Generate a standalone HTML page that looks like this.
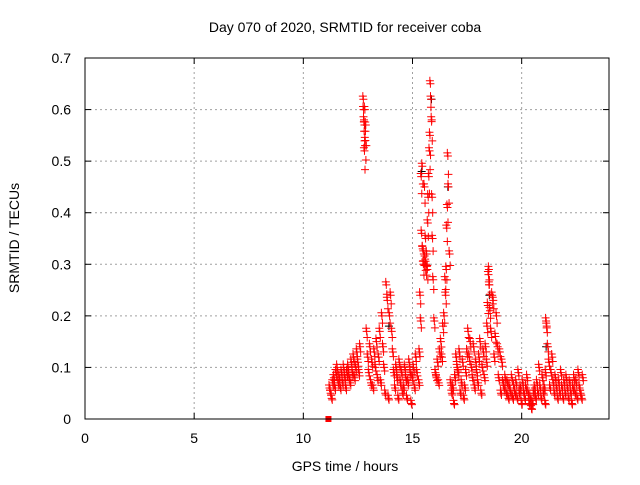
<!DOCTYPE html>
<html><head><meta charset="utf-8"><style>
body{margin:0;background:#fff;}
svg text{font-family:"Liberation Sans",sans-serif;font-size:14px;fill:#000;}
</style></head><body>
<svg id="chart" width="640" height="480" xmlns="http://www.w3.org/2000/svg">
<text x="345" y="32" text-anchor="middle">Day 070 of 2020, SRMTID for receiver coba</text>
<text x="345" y="471" text-anchor="middle">GPS time / hours</text>
<text transform="translate(19,238) rotate(-90)" text-anchor="middle">SRMTID / TECUs</text>
<g id="grid"></g><g id="ticks"></g><g id="black"></g><g id="red"></g>
<rect x="85" y="58" width="524" height="361" fill="none" stroke="#000" stroke-width="1"/>
</svg>
<script>
const xTicks=[0,5,10,15,20];
const yTicks=[0,0.1,0.2,0.3,0.4,0.5,0.6,0.7];
const yTickLabels=["0","0.1","0.2","0.3","0.4","0.5","0.6","0.7"];
const redHours=[11.2,11.25,11.3,11.35,11.4,11.45,11.5,11.55,11.6,11.65,11.7,11.75,11.8,11.85,11.9,11.95,12.0,12.05,12.1,12.15,12.2,12.25,12.3,12.35,12.4,12.45,12.5,12.55,12.6,
12.75,12.76,12.78,12.8,12.82,12.84,12.8,12.86,
12.9,12.95,13.0,13.05,13.1,13.15,13.2,13.25,13.3,13.35,13.4,13.45,13.5,13.55,13.6,13.65,13.7,13.75,13.8,13.85,13.9,13.95,14.0,14.05,14.1,14.15,14.2,14.25,14.3,14.35,14.4,14.45,14.5,14.55,14.6,14.65,14.7,14.75,14.8,14.85,14.9,14.95,15.0,15.05,15.1,15.15,15.2,
15.3,15.32,15.35,15.38,15.4,15.42,15.45,15.47,15.5,15.52,15.55,15.58,15.6,15.62,15.65,15.68,15.7,15.72,15.75,15.78,15.8,15.82,15.85,15.88,15.9,15.92,15.95,
16.0,16.05,16.1,16.15,16.2,16.25,16.3,16.35,16.4,16.45,16.5,16.52,16.55,16.57,16.6,16.62,16.65,
16.7,16.75,16.8,16.85,16.9,16.95,17.0,17.05,17.1,17.15,17.2,17.25,17.3,17.35,17.4,17.45,17.5,17.55,17.6,17.65,17.7,17.75,17.8,17.85,17.9,17.95,18.0,18.05,18.1,18.15,18.2,18.25,18.3,18.35,
18.4,18.42,18.45,18.48,18.5,18.52,18.55,18.6,18.65,18.7,18.75,18.8,18.85,18.9,18.95,19.0,19.05,19.1,19.15,
19.2,19.25,19.3,19.35,19.4,19.45,19.5,19.55,19.6,19.65,19.7,19.75,19.8,19.85,19.9,19.95,20.0,20.05,20.1,20.15,20.2,20.25,20.3,20.35,20.4,20.45,20.5,20.55,20.6,20.65,20.7,20.75,20.8,20.85,20.9,20.95,
21.0,21.05,21.08,21.1,21.12,21.15,21.2,21.25,21.3,21.35,21.4,21.45,21.5,21.55,21.6,21.65,21.7,21.75,21.8,21.85,21.9,21.95,22.0,22.05,22.1,22.15,22.2,22.25,22.3,22.35,22.4,22.45,22.5,22.55,22.6,22.65,22.7,22.75,22.8];
const redValues=[0.06,0.05,0.04,0.07,0.08,0.06,0.09,0.1,0.07,0.08,0.06,0.09,0.07,0.1,0.08,0.06,0.09,0.1,0.08,0.07,0.11,0.09,0.12,0.08,0.1,0.13,0.11,0.09,0.14,
0.62,0.6,0.58,0.57,0.6,0.54,0.52,0.57,
0.17,0.12,0.09,0.14,0.07,0.11,0.06,0.13,0.1,0.15,0.08,0.12,0.17,0.07,0.2,0.14,0.1,0.05,0.26,0.23,0.04,0.2,0.24,0.17,0.13,0.09,0.06,0.1,0.08,0.04,0.11,0.07,0.09,0.05,0.06,0.1,0.08,0.04,0.07,0.11,0.09,0.03,0.08,0.1,0.06,0.12,0.09,0.07,
0.13,0.24,0.19,0.47,0.36,0.49,0.33,0.3,0.32,0.45,0.31,0.35,0.3,0.32,0.29,0.38,0.43,0.47,0.52,0.55,0.65,0.62,0.58,0.43,0.35,0.27,0.19,
0.09,0.08,0.11,0.07,0.13,0.15,0.12,0.18,0.2,0.27,0.24,0.29,0.37,0.41,0.51,0.45,0.32,
0.07,0.05,0.06,0.03,0.08,0.12,0.1,0.09,0.13,0.05,0.07,0.11,0.04,0.06,0.09,0.13,0.17,0.12,0.15,0.1,0.08,0.14,0.06,0.11,0.09,0.07,0.12,0.15,0.05,0.1,0.13,0.08,0.14,0.11,
0.18,0.22,0.28,0.29,0.26,0.21,0.17,0.24,0.23,0.12,0.16,0.2,0.14,0.08,0.13,0.05,0.11,0.07,0.06,
0.08,0.05,0.07,0.04,0.06,0.05,0.08,0.04,0.06,0.05,0.07,0.04,0.09,0.05,0.06,0.03,0.07,0.05,0.04,0.06,0.08,0.05,0.03,0.04,0.02,0.03,0.05,0.06,0.04,0.07,0.05,0.1,0.06,0.04,0.08,0.05,
0.06,0.03,0.09,0.19,0.18,0.14,0.11,0.06,0.09,0.12,0.07,0.05,0.08,0.06,0.04,0.07,0.05,0.09,0.06,0.04,0.07,0.05,0.08,0.06,0.04,0.07,0.05,0.03,0.06,0.08,0.05,0.07,0.04,0.09,0.06,0.05,0.04,0.08,0.05];
const blackHours=[12.8,13.9,15.4,15.85,16.6,18.5,21.1];
const blackValues=[0.57,0.18,0.48,0.62,0.45,0.24,0.14];
const zeroHours=[11.15];
const zeroValues=[0];

const svg=document.getElementById('chart');
const NS='http://www.w3.org/2000/svg';
const X0=85,X1=609,Y0=419,Y1=58;
const xs=h=>X0+h/24*(X1-X0);
const ys=v=>Y0-v/0.7*(Y0-Y1);
function mk(tag,attrs,parent){const e=document.createElementNS(NS,tag);for(const k in attrs)e.setAttribute(k,attrs[k]);parent.appendChild(e);return e;}
const grid=document.getElementById('grid'),ticks=document.getElementById('ticks');
xTicks.forEach(t=>{
  const x=xs(t);
  if(t>0){const g=mk('line',{x1:x,x2:x,y1:Y0,y2:Y1,stroke:'#a0a0a0','stroke-dasharray':'2,3'},grid);
  
  }
  const l=mk('text',{x:x,y:Y0+24,'text-anchor':'middle'},ticks);l.textContent=t;
  
  
  mk('line',{x1:x,x2:x,y1:Y0,y2:Y0-6,stroke:'#000'},ticks);
  mk('line',{x1:x,x2:x,y1:Y1,y2:Y1+6,stroke:'#000'},ticks);
});
yTicks.forEach((t,i)=>{
  const y=ys(t);
  if(t>0&&t<0.7){const g=mk('line',{x1:X0,x2:X1,y1:y,y2:y,stroke:'#a0a0a0','stroke-dasharray':'2,3'},grid);
  
  }
  const l=mk('text',{x:X0-14,y:y+5,'text-anchor':'end'},ticks);l.textContent=yTickLabels[i];
  
  
  mk('line',{x1:X0,x2:X0+6,y1:y,y2:y,stroke:'#000'},ticks);
  mk('line',{x1:X1,x2:X1-6,y1:y,y2:y,stroke:'#000'},ticks);
});
function plus(h,v,col,g,name){
  const x=xs(h),y=ys(v);
  const p=mk('path',{d:`M${x-4},${y}H${x+4}M${x},${y-4}V${y+4}`,stroke:col,'stroke-width':1},g);
  
  
}
const bg=document.getElementById('black'),rg=document.getElementById('red');
blackHours.forEach((h,i)=>plus(h+0.02,blackValues[i],'#000',bg,'black-point'));
redHours.forEach((h,i)=>{
  plus(h,redValues[i],'#ff0000',rg,'red-point');
  plus(h+0.025,redValues[i]*0.93,'#ff0000',rg,'red-point');
  plus(h-0.025,redValues[i]+0.006,'#ff0000',rg,'red-point');
});
zeroHours.forEach((h,i)=>{const r=mk('rect',{x:xs(h)-3,y:ys(zeroValues[i])-3,width:6,height:6,fill:'#ff0000'},rg);

});
</script>
</body></html>
